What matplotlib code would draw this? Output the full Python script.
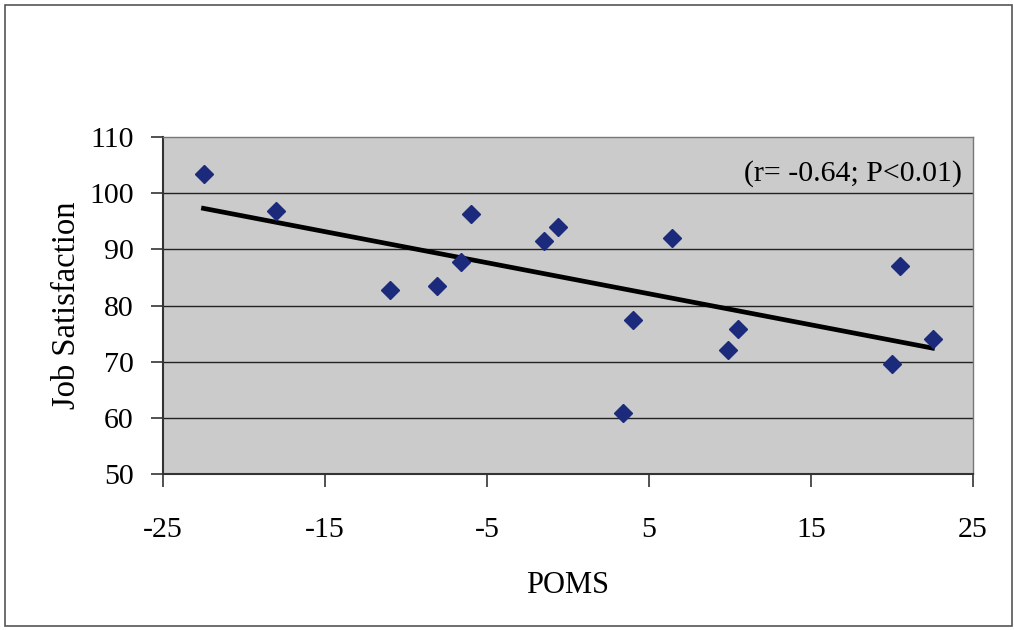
import numpy as np
import matplotlib.pyplot as plt
from matplotlib.patches import Rectangle

plt.rcParams['font.family'] = ['Liberation Serif', 'DejaVu Serif']
plt.rcParams['axes.unicode_minus'] = False

# POMS score vs job satisfaction, one point per subject
poms = [-22.5, -18.0, -11.0, -8.1, -6.6, -6.0, -1.5, -0.6,
        6.4, 20.5, 4.0, 10.5, 9.9, 22.5, 20.0, 3.4]
job_sat = [103.4, 96.9, 82.8, 83.5, 87.8, 96.3, 91.5, 93.9,
           92.0, 87.1, 77.4, 75.9, 72.0, 74.0, 69.6, 60.9]
x_ticks = [-25, -15, -5, 5, 15, 25]
y_ticks = [50, 60, 70, 80, 90, 100, 110]
note = '(r= -0.64; P<0.01)'

fig = plt.figure(figsize=(10.14, 6.30), dpi=100)
fig.patches.append(Rectangle((5 / 1014, 4 / 630), 1007 / 1014, 621 / 630,
                             transform=fig.transFigure, fill=False,
                             edgecolor='#555555', linewidth=1.2))

ax = fig.add_axes([163 / 1014, 1 - 474 / 630, 810 / 1014, 337 / 630])
ax.set_facecolor('#cbcbcb')

for y in y_ticks[1:-1]:
    ax.axhline(y, color='#222222', linewidth=1.0, zorder=1)

ax.plot(poms, job_sat, linestyle='none', marker='D', markersize=9,
        color='#1c2a7c', zorder=3)

# least-squares trend line over the range of the data
k, b = np.polyfit(poms, job_sat, 1)
xs = np.array([min(poms), max(poms)])
ax.plot(xs, k * xs + b, color='black', linewidth=3.4, zorder=2)

ax.set_xlim(-25, 25)
ax.set_ylim(50, 110)
ax.set_xticks(x_ticks)
ax.set_yticks(y_ticks)
ax.tick_params(labelsize=21.5, length=9, width=1.2, color='#333333')
ax.tick_params(axis='y', pad=12)
ax.tick_params(axis='x', pad=22)

for side in ['left', 'bottom']:
    ax.spines[side].set_color('#333333')
    ax.spines[side].set_linewidth(1.5)
for side in ['top', 'right']:
    ax.spines[side].set_color('#777777')
    ax.spines[side].set_linewidth(1.0)

ax.set_xlabel('POMS', fontsize=22, labelpad=20)
ax.set_ylabel('Job Satisfaction', fontsize=23.5, labelpad=5)
ax.text(0.986, 0.893, note, transform=ax.transAxes, fontsize=21.5,
        ha='right', va='center')

fig.savefig('out.png', dpi=100)
